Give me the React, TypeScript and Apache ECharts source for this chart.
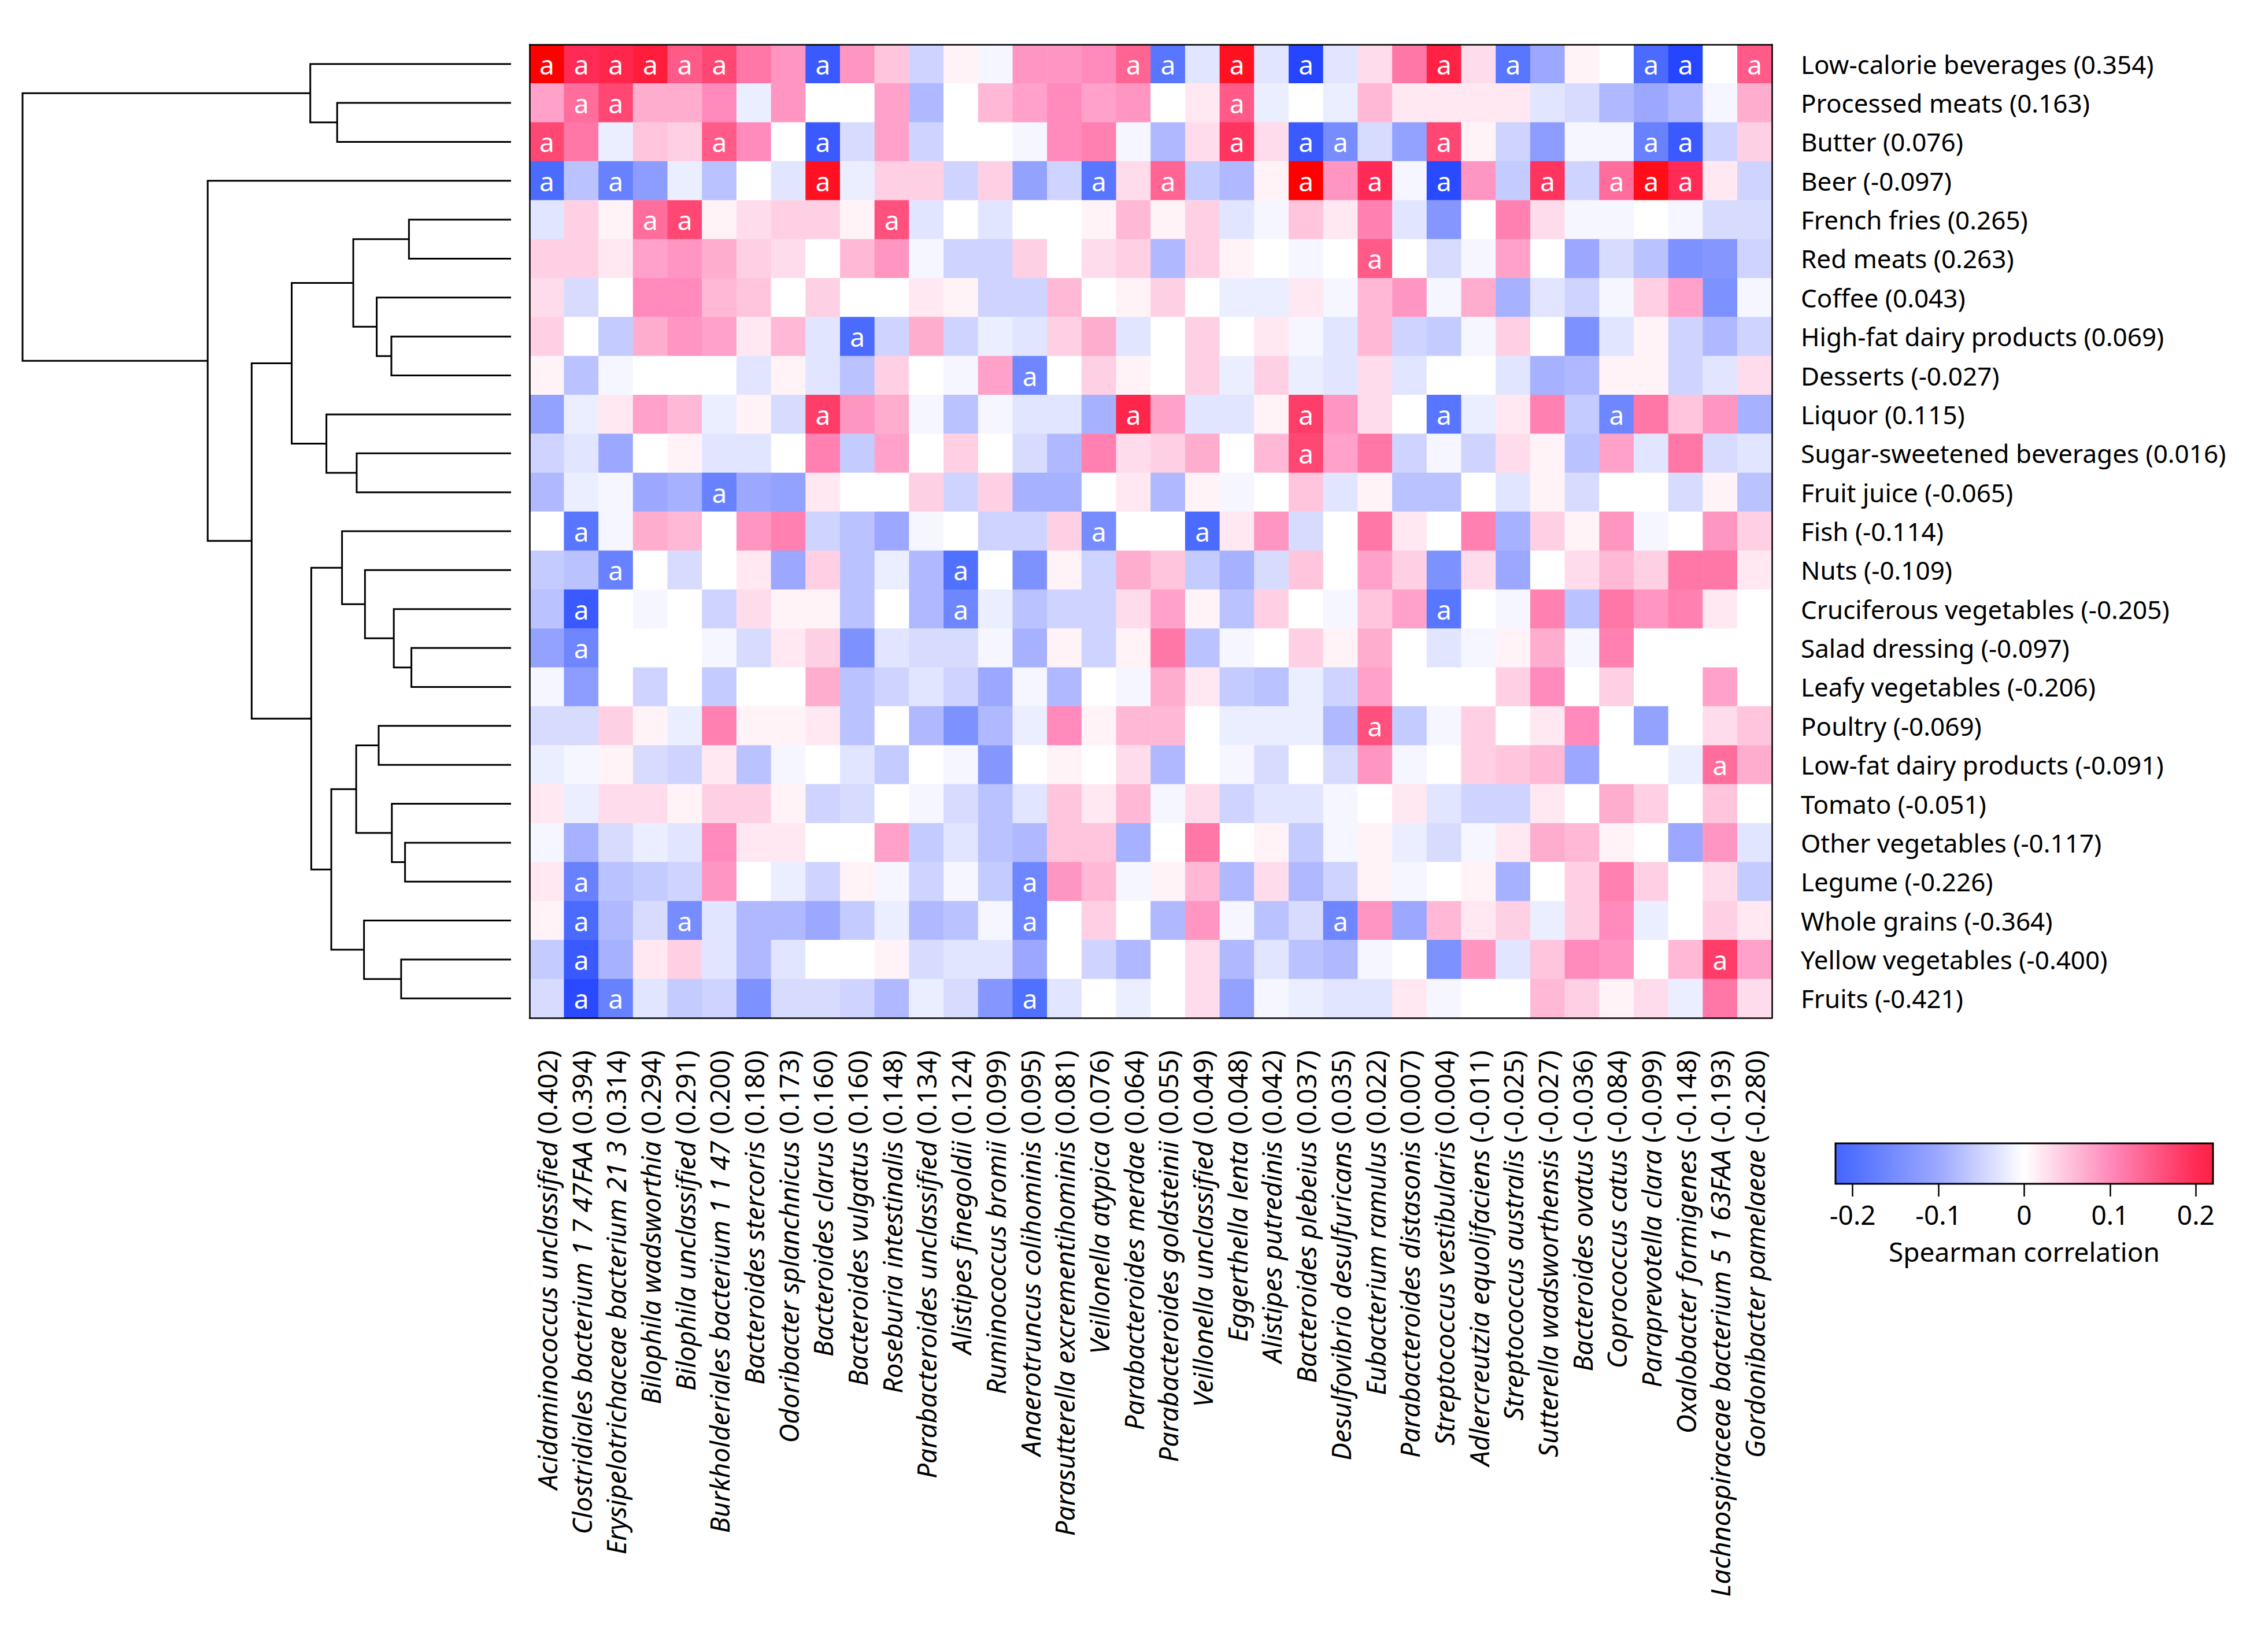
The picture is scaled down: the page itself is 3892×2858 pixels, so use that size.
import React, { useEffect, useRef } from "react";
import * as echarts from "echarts";

const ROW_LABELS = [
  "Low-calorie beverages (0.354)",
  "Processed meats (0.163)",
  "Butter (0.076)",
  "Beer (-0.097)",
  "French fries (0.265)",
  "Red meats (0.263)",
  "Coffee (0.043)",
  "High-fat dairy products (0.069)",
  "Desserts (-0.027)",
  "Liquor (0.115)",
  "Sugar-sweetened beverages (0.016)",
  "Fruit juice (-0.065)",
  "Fish (-0.114)",
  "Nuts (-0.109)",
  "Cruciferous vegetables (-0.205)",
  "Salad dressing (-0.097)",
  "Leafy vegetables (-0.206)",
  "Poultry (-0.069)",
  "Low-fat dairy products (-0.091)",
  "Tomato (-0.051)",
  "Other vegetables (-0.117)",
  "Legume (-0.226)",
  "Whole grains (-0.364)",
  "Yellow vegetables (-0.400)",
  "Fruits (-0.421)",
];

const COL_LABELS = [
  "Acidaminococcus unclassified (0.402)",
  "Clostridiales bacterium 1 7 47FAA (0.394)",
  "Erysipelotrichaceae bacterium 21 3 (0.314)",
  "Bilophila wadsworthia (0.294)",
  "Bilophila unclassified (0.291)",
  "Burkholderiales bacterium 1 1 47 (0.200)",
  "Bacteroides stercoris (0.180)",
  "Odoribacter splanchnicus (0.173)",
  "Bacteroides clarus (0.160)",
  "Bacteroides vulgatus (0.160)",
  "Roseburia intestinalis (0.148)",
  "Parabacteroides unclassified (0.134)",
  "Alistipes finegoldii (0.124)",
  "Ruminococcus bromii (0.099)",
  "Anaerotruncus colihominis (0.095)",
  "Parasutterella excrementihominis (0.081)",
  "Veillonella atypica (0.076)",
  "Parabacteroides merdae (0.064)",
  "Parabacteroides goldsteinii (0.055)",
  "Veillonella unclassified (0.049)",
  "Eggerthella lenta (0.048)",
  "Alistipes putredinis (0.042)",
  "Bacteroides plebeius (0.037)",
  "Desulfovibrio desulfuricans (0.035)",
  "Eubacterium ramulus (0.022)",
  "Parabacteroides distasonis (0.007)",
  "Streptococcus vestibularis (0.004)",
  "Adlercreutzia equolifaciens (-0.011)",
  "Streptococcus australis (-0.025)",
  "Sutterella wadsworthensis (-0.027)",
  "Bacteroides ovatus (-0.036)",
  "Coprococcus catus (-0.084)",
  "Paraprevotella clara (-0.099)",
  "Oxalobacter formigenes (-0.148)",
  "Lachnospiraceae bacterium 5 1 63FAA (-0.193)",
  "Gordonibacter pamelaeae (-0.280)",
];

// rows follow ROW_LABELS, columns follow COL_LABELS
const VALUES: number[][] = [
  [0.30, 0.20, 0.21, 0.23, 0.15, 0.17, 0.12, 0.09, -0.24, 0.09, 0.05, -0.05, 0.01, -0.01, 0.09, 0.09, 0.10, 0.14, -0.19, -0.03, 0.26, -0.03, -0.28, -0.03, 0.03, 0.12, 0.22, 0.03, -0.19, -0.10, 0.01, 0.00, -0.21, -0.28, 0.00, 0.15],
  [0.08, 0.13, 0.17, 0.07, 0.07, 0.10, -0.02, 0.09, 0.00, 0.00, 0.08, -0.08, 0.00, 0.06, 0.08, 0.10, 0.08, 0.09, 0.00, 0.02, 0.15, -0.02, 0.00, -0.02, 0.06, 0.02, 0.02, 0.02, 0.02, -0.03, -0.04, -0.08, -0.10, -0.08, -0.01, 0.07],
  [0.17, 0.12, -0.02, 0.05, 0.04, 0.15, 0.10, 0.00, -0.24, -0.04, 0.08, -0.05, 0.00, 0.00, -0.01, 0.10, 0.11, -0.01, -0.08, 0.03, 0.19, 0.03, -0.24, -0.15, -0.04, -0.11, 0.17, 0.01, -0.05, -0.12, -0.01, -0.01, -0.17, -0.24, -0.05, 0.04],
  [-0.21, -0.07, -0.17, -0.12, -0.02, -0.07, 0.00, -0.03, 0.26, -0.02, 0.04, 0.04, -0.05, 0.04, -0.11, -0.05, -0.19, 0.03, 0.14, -0.06, -0.08, 0.01, 0.30, 0.09, 0.20, -0.01, -0.27, 0.09, -0.06, 0.19, -0.05, 0.13, 0.27, 0.20, 0.02, -0.05],
  [-0.03, 0.04, 0.01, 0.13, 0.17, 0.01, 0.03, 0.04, 0.04, 0.01, 0.16, -0.03, 0.00, -0.03, 0.00, 0.00, 0.01, 0.06, 0.01, 0.04, -0.03, -0.01, 0.05, 0.02, 0.11, -0.03, -0.13, 0.00, 0.11, 0.03, -0.01, -0.01, 0.00, -0.01, -0.04, -0.04],
  [0.04, 0.04, 0.02, 0.08, 0.09, 0.07, 0.04, 0.03, 0.00, 0.06, 0.09, -0.01, -0.05, -0.05, 0.04, 0.00, 0.03, 0.04, -0.08, 0.04, 0.01, 0.00, -0.01, 0.00, 0.15, 0.00, -0.04, -0.01, 0.08, 0.00, -0.10, -0.04, -0.07, -0.14, -0.13, -0.05],
  [0.03, -0.04, 0.00, 0.10, 0.10, 0.06, 0.05, 0.00, 0.04, 0.00, 0.00, 0.02, 0.01, -0.05, -0.05, 0.06, 0.00, 0.01, 0.04, 0.00, -0.02, -0.02, 0.02, -0.01, 0.06, 0.09, -0.01, 0.07, -0.09, -0.03, -0.05, -0.01, 0.04, 0.08, -0.14, -0.01],
  [0.04, 0.00, -0.06, 0.07, 0.09, 0.08, 0.02, 0.06, -0.03, -0.21, -0.05, 0.07, -0.05, -0.02, -0.03, 0.04, 0.07, -0.03, 0.00, 0.04, 0.00, 0.02, -0.01, -0.03, 0.06, -0.05, -0.06, -0.01, 0.04, 0.00, -0.14, -0.03, 0.01, -0.05, -0.08, -0.05],
  [0.01, -0.07, -0.01, 0.00, 0.00, 0.00, -0.03, 0.01, -0.03, -0.07, 0.04, 0.00, -0.01, 0.08, -0.16, 0.00, 0.04, 0.01, 0.00, 0.04, -0.02, 0.04, -0.02, -0.03, 0.03, -0.03, 0.00, 0.00, -0.03, -0.09, -0.08, 0.01, 0.01, -0.05, -0.03, 0.03],
  [-0.11, -0.02, 0.02, 0.08, 0.06, -0.02, 0.01, -0.04, 0.18, 0.09, 0.07, -0.01, -0.07, -0.01, -0.03, -0.03, -0.09, 0.21, 0.08, -0.03, -0.03, 0.01, 0.18, 0.09, 0.03, 0.00, -0.19, -0.02, 0.02, 0.11, -0.06, -0.16, 0.12, 0.05, 0.09, -0.09],
  [-0.05, -0.03, -0.10, 0.00, 0.01, -0.03, -0.03, 0.00, 0.11, -0.06, 0.08, 0.00, 0.04, 0.00, -0.04, -0.08, 0.11, 0.03, 0.04, 0.07, 0.00, 0.06, 0.17, 0.08, 0.12, -0.05, -0.01, -0.05, 0.03, 0.01, -0.07, 0.08, -0.03, 0.12, -0.04, -0.03],
  [-0.08, -0.02, -0.01, -0.10, -0.09, -0.17, -0.10, -0.11, 0.02, 0.00, 0.00, 0.04, -0.05, 0.04, -0.09, -0.09, 0.00, 0.02, -0.08, 0.01, -0.01, 0.00, 0.05, -0.03, 0.01, -0.07, -0.07, 0.00, -0.03, 0.01, -0.04, 0.00, 0.00, -0.04, 0.01, -0.07],
  [0.00, -0.19, -0.01, 0.07, 0.06, 0.00, 0.09, 0.11, -0.05, -0.07, -0.10, -0.01, 0.00, -0.05, -0.05, 0.04, -0.15, 0.00, 0.00, -0.21, 0.02, 0.09, -0.04, 0.00, 0.12, 0.02, 0.00, 0.11, -0.09, 0.04, 0.01, 0.09, -0.01, 0.00, 0.09, 0.04],
  [-0.06, -0.07, -0.17, 0.00, -0.04, 0.00, 0.02, -0.10, 0.04, -0.07, -0.02, -0.08, -0.20, 0.00, -0.14, 0.01, -0.05, 0.07, 0.05, -0.06, -0.09, -0.04, 0.05, 0.00, 0.08, 0.04, -0.14, 0.03, -0.10, 0.00, 0.03, 0.06, 0.04, 0.12, 0.12, 0.02],
  [-0.07, -0.24, 0.00, -0.01, 0.00, -0.05, 0.03, 0.01, 0.01, -0.07, 0.00, -0.08, -0.16, -0.02, -0.07, -0.05, -0.05, 0.03, 0.08, 0.01, -0.07, 0.04, 0.00, -0.01, 0.05, 0.08, -0.19, 0.00, -0.01, 0.11, -0.07, 0.12, 0.09, 0.11, 0.02, 0.00],
  [-0.11, -0.16, 0.00, 0.00, 0.00, -0.01, -0.04, 0.02, 0.04, -0.14, -0.03, -0.04, -0.04, -0.01, -0.09, 0.01, -0.05, 0.01, 0.12, -0.07, -0.01, 0.00, 0.04, 0.01, 0.07, 0.00, -0.03, -0.01, 0.01, 0.07, -0.01, 0.11, 0.00, 0.00, 0.00, 0.00],
  [-0.01, -0.12, 0.00, -0.05, 0.00, -0.06, 0.00, 0.00, 0.07, -0.07, -0.05, -0.03, -0.05, -0.10, -0.01, -0.08, 0.00, -0.01, 0.07, 0.02, -0.06, -0.07, -0.02, -0.05, 0.08, 0.00, 0.00, 0.00, 0.04, 0.10, 0.00, 0.04, 0.00, 0.00, 0.08, 0.00],
  [-0.04, -0.04, 0.04, 0.01, -0.02, 0.11, 0.01, 0.01, 0.02, -0.07, 0.00, -0.08, -0.14, -0.08, -0.02, 0.10, 0.01, 0.06, 0.06, 0.00, -0.02, -0.02, -0.02, -0.08, 0.16, -0.06, -0.01, 0.04, 0.00, 0.02, 0.10, 0.00, -0.11, 0.00, 0.03, 0.05],
  [-0.02, -0.01, 0.01, -0.04, -0.05, 0.02, -0.07, -0.01, 0.00, -0.03, -0.06, 0.00, -0.01, -0.13, 0.00, 0.01, 0.00, 0.03, -0.08, 0.00, -0.01, -0.04, 0.00, -0.04, 0.09, -0.01, 0.00, 0.04, 0.05, 0.06, -0.10, 0.00, 0.00, -0.02, 0.13, 0.07],
  [0.02, -0.02, 0.03, 0.03, 0.01, 0.04, 0.04, 0.01, -0.05, -0.04, 0.00, -0.01, -0.04, -0.07, -0.03, 0.05, 0.02, 0.06, -0.01, 0.03, -0.05, -0.03, -0.03, -0.01, 0.00, 0.02, -0.03, -0.05, -0.05, 0.02, 0.00, 0.07, 0.04, 0.00, 0.05, 0.00],
  [-0.01, -0.09, -0.04, -0.02, -0.03, 0.10, 0.02, 0.02, 0.00, 0.00, 0.08, -0.06, -0.03, -0.07, -0.08, 0.05, 0.05, -0.09, 0.00, 0.12, 0.00, 0.01, -0.06, -0.01, 0.01, -0.02, -0.04, -0.01, 0.02, 0.07, 0.06, 0.01, 0.00, -0.10, 0.09, -0.03],
  [0.02, -0.17, -0.07, -0.06, -0.05, 0.09, 0.00, -0.02, -0.05, 0.01, -0.01, -0.05, -0.01, -0.06, -0.16, 0.09, 0.06, -0.01, 0.01, 0.06, -0.08, 0.03, -0.08, -0.05, 0.01, -0.01, 0.00, 0.01, -0.09, 0.00, 0.04, 0.11, 0.04, 0.00, 0.03, -0.06],
  [0.01, -0.21, -0.08, -0.04, -0.15, -0.03, -0.08, -0.08, -0.10, -0.06, -0.02, -0.08, -0.07, -0.01, -0.16, 0.00, 0.04, 0.00, -0.08, 0.09, -0.01, -0.07, -0.04, -0.16, 0.09, -0.10, 0.06, 0.02, 0.04, -0.02, 0.04, 0.10, -0.02, 0.00, 0.04, 0.02],
  [-0.06, -0.24, -0.09, 0.02, 0.04, -0.03, -0.08, -0.03, 0.00, 0.00, 0.01, -0.04, -0.03, -0.03, -0.10, 0.00, -0.05, -0.08, 0.00, 0.03, -0.08, -0.03, -0.07, -0.08, -0.01, 0.00, -0.14, 0.09, -0.03, 0.05, 0.10, 0.09, 0.00, 0.06, 0.18, 0.08],
  [-0.04, -0.27, -0.17, -0.03, -0.06, -0.05, -0.14, -0.04, -0.04, -0.05, -0.08, -0.02, -0.04, -0.13, -0.20, -0.03, 0.00, -0.02, 0.00, 0.03, -0.11, -0.01, -0.02, -0.03, -0.03, 0.02, -0.01, 0.00, 0.00, 0.06, 0.04, 0.01, 0.03, -0.02, 0.12, 0.03],
];

// significant cells marked "a": [row, column]
const SIGNIFICANT: [number, number][] = [
  [0, 0], [0, 1], [0, 2], [0, 3], [0, 4], [0, 5], [0, 8], [0, 17], [0, 18], [0, 20], [0, 22], [0, 26], [0, 28], [0, 32], [0, 33], [0, 35],
  [1, 1], [1, 2], [1, 20],
  [2, 0], [2, 5], [2, 8], [2, 20], [2, 22], [2, 23], [2, 26], [2, 32], [2, 33],
  [3, 0], [3, 2], [3, 8], [3, 16], [3, 18], [3, 22], [3, 24], [3, 26], [3, 29], [3, 31], [3, 32], [3, 33],
  [4, 3], [4, 4], [4, 10],
  [5, 24],
  [7, 9],
  [8, 14],
  [9, 8], [9, 17], [9, 22], [9, 26], [9, 31],
  [10, 22],
  [11, 5],
  [12, 1], [12, 16], [12, 19],
  [13, 2], [13, 12],
  [14, 1], [14, 12], [14, 26],
  [15, 1],
  [17, 24],
  [18, 34],
  [21, 1], [21, 14],
  [22, 1], [22, 4], [22, 14], [22, 23],
  [23, 1], [23, 34],
  [24, 1], [24, 2], [24, 14],
];

// dendrogram merges: [childA, childB, height]; ids < 25 are rows, id 25 + k is merge k
const MERGES: [number, number, number][] = [
  [15, 16, 0.204],
  [4, 5, 0.209],
  [20, 21, 0.217],
  [23, 24, 0.225],
  [19, 27, 0.244],
  [14, 25, 0.240],
  [7, 8, 0.245],
  [6, 31, 0.275],
  [17, 18, 0.271],
  [13, 30, 0.299],
  [22, 28, 0.301],
  [10, 11, 0.316],
  [33, 29, 0.317],
  [26, 32, 0.323],
  [12, 34, 0.346],
  [1, 2, 0.356],
  [37, 35, 0.368],
  [9, 36, 0.378],
  [39, 41, 0.409],
  [0, 40, 0.411],
  [38, 42, 0.449],
  [45, 43, 0.531],
  [3, 46, 0.621],
  [44, 47, 1.0],
];

const COLOR_STOPS: [number, string][] = [
  [-0.3, "#1a3aff"],
  [-0.2, "#5070ff"],
  [-0.1, "#9ca8ff"],
  [0, "#ffffff"],
  [0.1, "#ff8abb"],
  [0.2, "#ff2a55"],
  [0.3, "#ff0000"],
];
const COLORBAR_RANGE: [number, number] = [-0.22, 0.22];
const COLORBAR_TICKS = [-0.2, -0.1, 0, 0.1, 0.2];

const FONT = "Noto Sans";

function hexToRgb(h: string): number[] {
  const n = parseInt(h.slice(1), 16);
  return [(n >> 16) & 255, (n >> 8) & 255, n & 255];
}
function colorAt(v: number): string {
  const s = COLOR_STOPS;
  if (v <= s[0][0]) return s[0][1];
  for (let i = 0; i < s.length - 1; i++) {
    const [v0, c0] = s[i];
    const [v1, c1] = s[i + 1];
    if (v <= v1) {
      const t = (v - v0) / (v1 - v0);
      const a = hexToRgb(c0);
      const b = hexToRgb(c1);
      const m = a.map((x, k) => Math.round(x + (b[k] - x) * t));
      return `rgb(${m[0]},${m[1]},${m[2]})`;
    }
  }
  return s[s.length - 1][1];
}

export default function App() {
  const ref = useRef<HTMLDivElement>(null);

  useEffect(() => {
    if (!ref.current) return;
    const chart = echarts.init(ref.current, undefined, { renderer: "svg" });

    const sigSet = new Set(SIGNIFICANT.map(([r, c]) => `${r},${c}`));
    const heatData: [number, number, number][] = [];
    VALUES.forEach((row, r) =>
      row.forEach((v, c) => heatData.push([c, r, v]))
    );

    // dendrogram node positions
    const nLeaves = ROW_LABELS.length;
    const pos: { y: number; h: number }[] = [];
    for (let i = 0; i < nLeaves; i++) pos.push({ y: i, h: 0 });
    const dendroData: number[][] = [];
    MERGES.forEach(([a, b, h]) => {
      const A = pos[a];
      const B = pos[b];
      dendroData.push([h, A.y, B.y, A.h, B.h]);
      pos.push({ y: (A.y + B.y) / 2, h });
    });

    const gradStops: { offset: number; color: string }[] = [];
    const N = 60;
    for (let i = 0; i <= N; i++) {
      const v = COLORBAR_RANGE[0] + ((COLORBAR_RANGE[1] - COLORBAR_RANGE[0]) * i) / N;
      gradStops.push({ offset: i / N, color: colorAt(v) });
    }

    const borderLine = { show: true, lineStyle: { color: "#000", width: 2.5 } };

    const colLabelFormatter = (s: string) => {
      const m = s.match(/^(.*) (\([^)]*\))$/);
      if (!m) return `{i|${s}}`;
      return `{i|${m[1]}} {n|${m[2]}}`;
    };

    const option: any = {
      animation: false,
      backgroundColor: "#fff",
      grid: [
        { left: 916, top: 77, width: 2149, height: 1684, containLabel: false },
        { left: 39, top: 77, width: 845, height: 1684, containLabel: false },
        { left: 3175, top: 1978, width: 653, height: 70, containLabel: false },
      ],
      xAxis: [
        {
          type: "category",
          gridIndex: 0,
          data: COL_LABELS,
          position: "bottom",
          z: 10,
          axisLine: borderLine,
          axisTick: { show: false },
          splitLine: { show: false },
          axisLabel: {
            rotate: 90,
            interval: 0,
            margin: 56,
            fontSize: 46,
            fontFamily: FONT,
            color: "#000",
            formatter: colLabelFormatter,
            rich: {
              i: { fontSize: 46, fontStyle: "italic", fontFamily: FONT, color: "#000" },
              n: { fontSize: 46, fontStyle: "normal", fontFamily: FONT, color: "#000" },
            },
          },
        },
        {
          type: "category",
          gridIndex: 0,
          data: COL_LABELS,
          position: "top",
          z: 10,
          axisLine: borderLine,
          axisTick: { show: false },
          axisLabel: { show: false },
          splitLine: { show: false },
        },
        {
          type: "value",
          gridIndex: 1,
          min: 0,
          max: 1,
          inverse: true,
          show: false,
        },
        {
          type: "value",
          gridIndex: 2,
          min: COLORBAR_RANGE[0],
          max: COLORBAR_RANGE[1],
          axisLine: { show: false },
          splitLine: { show: false },
          axisTick: {
            show: true,
            customValues: COLORBAR_TICKS,
            length: 22,
            lineStyle: { color: "#000", width: 2.5 },
          },
          axisLabel: {
            customValues: COLORBAR_TICKS,
            margin: 30,
            fontSize: 46,
            fontFamily: FONT,
            color: "#000",
            formatter: (v: number) => (v === 0 ? "0" : v.toFixed(1)),
          },
          name: "Spearman correlation",
          nameLocation: "middle",
          nameGap: 94,
          nameTextStyle: { fontSize: 46, fontFamily: FONT, color: "#000" },
        },
      ],
      yAxis: [
        {
          type: "category",
          gridIndex: 0,
          data: ROW_LABELS,
          inverse: true,
          position: "right",
          z: 10,
          axisLine: borderLine,
          axisTick: { show: false },
          splitLine: { show: false },
          axisLabel: {
            interval: 0,
            margin: 50,
            fontSize: 44,
            fontFamily: FONT,
            color: "#000",
          },
        },
        {
          type: "category",
          gridIndex: 0,
          data: ROW_LABELS,
          inverse: true,
          position: "left",
          z: 10,
          axisLine: borderLine,
          axisTick: { show: false },
          axisLabel: { show: false },
          splitLine: { show: false },
        },
        {
          type: "value",
          gridIndex: 1,
          min: -0.5,
          max: nLeaves - 0.5,
          inverse: true,
          show: false,
        },
        {
          type: "value",
          gridIndex: 2,
          min: 0,
          max: 1,
          show: false,
        },
      ],
      visualMap: {
        type: "continuous",
        show: false,
        seriesIndex: 0,
        dimension: 2,
        min: COLOR_STOPS[0][0],
        max: COLOR_STOPS[COLOR_STOPS.length - 1][0],
        inRange: { color: COLOR_STOPS.map((s) => s[1]) },
      },
      series: [
        {
          type: "heatmap",
          xAxisIndex: 0,
          yAxisIndex: 0,
          data: heatData,
          itemStyle: { borderWidth: 0 },
          emphasis: { disabled: true },
          label: {
            show: true,
            color: "#fff",
            fontSize: 46,
            fontFamily: FONT,
            formatter: (p: any) =>
              sigSet.has(`${p.value[1]},${p.value[0]}`) ? "a" : "",
          },
        },
        {
          type: "custom",
          xAxisIndex: 2,
          yAxisIndex: 2,
          data: dendroData,
          encode: { x: [0, 3, 4], y: [1, 2] },
          silent: true,
          renderItem: (_params: any, api: any) => {
            const h = api.value(0);
            const yA = api.value(1);
            const yB = api.value(2);
            const hA = api.value(3);
            const hB = api.value(4);
            const pts = [
              api.coord([hA, yA]),
              api.coord([h, yA]),
              api.coord([h, yB]),
              api.coord([hB, yB]),
            ];
            return {
              type: "polyline",
              shape: { points: pts },
              style: { stroke: "#000", lineWidth: 3, fill: null },
            };
          },
        },
        {
          type: "custom",
          xAxisIndex: 3,
          yAxisIndex: 3,
          data: [[COLORBAR_RANGE[0], COLORBAR_RANGE[1], 0, 1]],
          encode: { x: [0, 1], y: [2, 3] },
          silent: true,
          renderItem: (_params: any, api: any) => {
            const p0 = api.coord([api.value(0), api.value(3)]);
            const p1 = api.coord([api.value(1), api.value(2)]);
            return {
              type: "rect",
              shape: { x: p0[0], y: p0[1], width: p1[0] - p0[0], height: p1[1] - p0[1] },
              style: {
                fill: new echarts.graphic.LinearGradient(0, 0, 1, 0, gradStops),
                stroke: "#000",
                lineWidth: 3,
              },
            };
          },
        },
      ],
    };

    chart.setOption(option);
    return () => chart.dispose();
  }, []);

  return (
    <div
      ref={ref}
      style={{ position: "fixed", left: 0, top: 0, width: 3892, height: 2858, background: "#fff" }}
    />
  );
}
